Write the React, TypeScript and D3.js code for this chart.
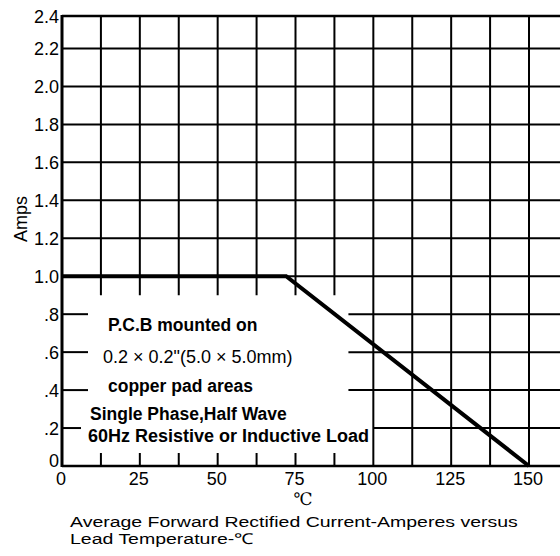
import React from 'react'
import * as d3 from 'd3'

// derating curve
const tempC = [0, 72, 150]
const amps = [1.0, 1.0, 0]

const xTicks = [0, 25, 50, 75, 100, 125, 150]
const xGrid = [12.5, 25, 37.5, 50, 62.5, 75, 87.5, 100, 112.5, 125, 137.5, 150]
const yTicks = [0, 0.2, 0.4, 0.6, 0.8, 1.0, 1.2, 1.4, 1.6, 1.8, 2.0, 2.2, 2.4]
const yLabels = ['0', '.2', '.4', '.6', '.8', '1.0', '1.2', '1.4', '1.6', '1.8', '2.0', '2.2', '2.4']

const notes = [
  'P.C.B mounted on',
  '0.2 × 0.2"(5.0 × 5.0mm)',
  'copper pad areas',
  'Single Phase,Half Wave',
  '60Hz Resistive or Inductive Load'
]
const caption = [
  'Average Forward Rectified Current-Amperes versus',
  'Lead Temperature-℃'
]

const W = 560
const H = 556
const font = '"Liberation Sans", Arial, sans-serif'

// where each note line sits and how it is set
const noteLayout = [
  { x: 108, y: 331, bold: true, size: 17.5 },
  { x: 103, y: 363, bold: false, size: 18 },
  { x: 108, y: 392, bold: true, size: 17.5 },
  { x: 90, y: 420, bold: true, size: 17.5 },
  { x: 88, y: 442, bold: true, size: 18 }
]

export default function App () {
  const x = d3.scaleLinear().domain([0, 150]).range([62, 529])
  // the scanned grid is a little tighter in its top row
  const y = d3.scaleLinear().domain([0, 2.2, 2.4]).range([466, 48.5, 16])

  const line = d3.line<number>()
    .x((d, i) => x(tempC[i]))
    .y(d => y(d))

  const x0 = x(0)

  return (
    <svg width={W} height={H} style={{ position: 'absolute', left: 0, top: 0, background: '#fff' }}>
      <g stroke='#000' strokeWidth={2}>
        {yTicks.filter(v => v >= 1.0 && v < 2.4).map(v => (
          <line key={'h' + v} x1={x0} x2={W} y1={y(v)} y2={y(v)} />
        ))}
        {yTicks.filter(v => v > 0 && v < 1.0).map(v => (
          <g key={'s' + v}>
            <line x1={x0} x2={x0 + (v < 0.3 ? 19 : 26)} y1={y(v)} y2={y(v)} />
            <line x1={x(v < 0.3 ? 100 : 92)} x2={W} y1={y(v)} y2={y(v)} />
          </g>
        ))}
        {xGrid.map(v => v >= 100
          ? <line key={'v' + v} x1={x(v)} x2={x(v)} y1={y(2.4)} y2={y(0)} />
          : (
            <g key={'v' + v}>
              <line x1={x(v)} x2={x(v)} y1={y(2.4)} y2={y(1.0) + 19} />
              <line x1={x(v)} x2={x(v)} y1={y(0) - 13} y2={y(0)} />
            </g>
            )
        )}
        <line x1={x0} x2={W} y1={y(2.4)} y2={y(2.4)} strokeWidth={2.5} />
        <line x1={x0} x2={W} y1={y(0)} y2={y(0)} strokeWidth={2.5} />
        <line x1={x0} x2={x0} y1={y(2.4) - 1} y2={y(0) + 1} strokeWidth={3} />
      </g>

      <path d={line(amps) || ''} fill='none' stroke='#000' strokeWidth={4} strokeLinejoin='miter' />

      <g fontFamily={font} fontSize={18} fill='#000'>
        {yTicks.map((v, i) => (
          <text key={'yl' + v} x={59} y={v === 0 ? y(v) + 1 : y(v) + 6.5} textAnchor='end'>{yLabels[i]}</text>
        ))}
        {xTicks.map(v => (
          <text key={'xl' + v} x={x(v) - 1} y={485} textAnchor='middle'>{v}</text>
        ))}
        <text transform='translate(27,219) rotate(-90)' textAnchor='middle'>Amps</text>
        <text x={303} y={505} textAnchor='middle' fontFamily='"DejaVu Serif", serif' fontSize={17}>℃</text>

        {notes.map((t, i) => (
          <text key={'n' + i} x={noteLayout[i].x} y={noteLayout[i].y}
            fontWeight={noteLayout[i].bold ? 'bold' : 'normal'} fontSize={noteLayout[i].size}>{t}</text>
        ))}

        {caption.map((t, i) => (
          <text key={'c' + i} transform={`translate(70,${527 + i * 17}) scale(1.3,1)`} fontSize={15}>{t}</text>
        ))}
      </g>
    </svg>
  )
}
